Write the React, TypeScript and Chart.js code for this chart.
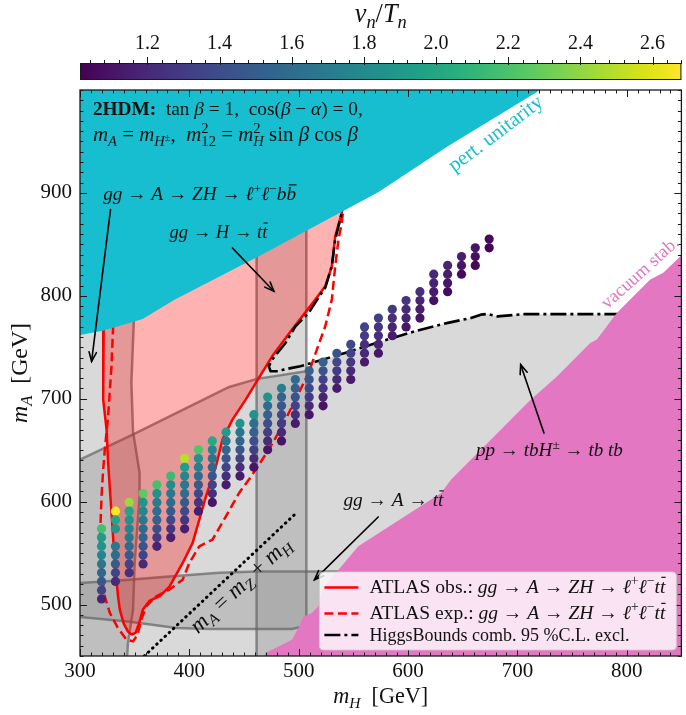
import { useEffect, useRef } from 'react';
import { Chart, registerables } from 'chart.js';

Chart.register(...registerables);

const SERIF = "'Liberation Serif', 'Times New Roman', serif";

// ---------- axes ----------
const X_RANGE = [300, 850];
const Y_RANGE = [450, 1000];
const X_TICKS = [300, 400, 500, 600, 700, 800];
const Y_TICKS = [500, 600, 700, 800, 900];
const CB_RANGE = [1.013, 2.68];
const CB_TICKS = [1.2, 1.4, 1.6, 1.8, 2.0, 2.2, 2.4, 2.6];
const M_Z = 91.19;

// ---------- scan points (m_H columns, m_A rows, v_n/T_n top -> bottom) ----------
const MH_COLUMNS = [319.7, 332.4, 345.0, 357.7, 370.3, 383.0, 395.7, 408.3, 421.0, 433.6, 446.3, 459.0, 471.6, 484.3, 496.9, 509.6, 522.3, 534.9, 547.6, 560.2, 572.9, 585.6, 598.2, 610.9, 623.5, 636.2, 648.9, 661.5, 674.2];
const MA_ROWS = [505.4, 513.9, 522.5, 531.0, 539.5, 548.1, 556.6, 565.1, 573.6, 582.2, 590.7, 599.2, 607.8, 616.3, 624.8, 633.4, 641.9, 650.4, 659.0, 667.5, 676.0, 684.5, 693.1, 701.6, 710.1, 718.7, 727.2, 735.7, 744.2, 752.8, 761.3, 769.8, 778.4, 786.9, 795.4, 804.0, 812.5, 821.0, 829.5, 838.1, 846.6, 855.1];
const COL_TOP_ROW = [8, 10, 11, 12, 13, 14, 16, 17, 18, 19, 20, 21, 23, 24, 25, 26, 27, 28, 29, 31, 32, 33, 34, 35, 37, 38, 39, 40, 41];
const VN_TN: (number | null)[][] = [
  [2.18, 1.93, 1.85, 1.76, 1.68, 1.56, 1.46, 1.35, 1.18],
  [2.68, 1.98, 1.88, null, 1.68, 1.58, 1.48, 1.35, 1.21],
  [2.43, 1.98, 1.85, 1.76, 1.68, 1.58, 1.48, 1.35, 1.24],
  [2.26, 1.88, 1.78, 1.68, 1.59, 1.52, 1.43, 1.35, 1.21],
  [2.18, 1.85, 1.71, 1.61, 1.52, 1.41, 1.30, 1.18],
  [2.15, 1.81, 1.68, 1.58, 1.48, 1.38, 1.26, 1.15],
  [2.51, 1.93, 1.78, 1.68, 1.58, 1.48, 1.38, 1.26, 1.15],
  [2.22, 1.85, 1.71, 1.59, 1.48, 1.38, 1.26, 1.15],
  [2.02, 1.76, 1.65, 1.54, 1.45, 1.35, 1.23, 1.11],
  [1.93, 1.68, 1.56, 1.46, 1.35, 1.24, 1.13],
  [1.88, 1.65, 1.54, 1.45, 1.35, 1.23, 1.13],
  [1.85, 1.61, 1.52, 1.41, 1.32, 1.21, 1.11],
  [1.85, 1.59, 1.52, 1.41, 1.32, 1.21, 1.11],
  [1.71, 1.54, 1.46, 1.38, 1.30, 1.20, 1.10],
  [1.59, 1.52, 1.43, 1.35, 1.24, 1.13],
  [1.54, 1.46, 1.38, 1.30, 1.21, 1.11],
  [1.52, 1.43, 1.35, 1.26, 1.18, 1.10],
  [1.43, 1.37, 1.30, 1.21, 1.13],
  [1.38, 1.33, 1.28, 1.21, 1.13],
  [1.35, 1.30, 1.24, 1.20, 1.13],
  [1.32, 1.26, 1.23, 1.18, 1.11],
  [1.28, 1.23, 1.18, 1.13],
  [1.26, 1.21, 1.17, 1.11],
  [1.23, 1.18, 1.15, 1.10],
  [1.21, 1.17, 1.13, 1.08],
  [1.18, 1.15, 1.11, 1.06],
  [1.15, 1.11, 1.06],
  [1.11, 1.08, 1.04],
  [1.06, 1.01],
];

// ---------- region boundaries [m_H, m_A] ----------
const PERT_UNITARITY = [[290, 759], [300, 762], [321, 766], [357.3, 777.5], [386.4, 796.3], [463.6, 838.4], [572.7, 900.6], [636.4, 945.3], [718.2, 998.4], [730, 1010]];
const VACUUM_STAB = [[465, 440], [469.7, 453], [478.8, 457.8], [493.9, 465.9], [500, 478], [504.5, 488.5], [512.1, 491.8], [518.2, 498.3], [521.2, 514.5], [554.5, 556.6], [630.3, 608.4], [639.4, 621.5], [675.7, 660.2], [712.1, 699.1], [736.4, 721.8], [766.6, 754.2], [772.7, 757.5], [790.9, 783.4], [797, 789.8], [812.1, 806], [821.2, 815.7], [833.4, 822.3], [850.9, 840.2], [860, 850]];
const ATLAS_OBS = [[321, 850], [321.8, 796.3], [321.2, 764.2], [321.2, 699.1], [324.3, 670], [325.7, 637.9], [328.8, 589.3], [331.8, 540.7], [334.8, 507.7], [336.4, 495.1], [340, 481.4], [343.9, 473.7], [347.3, 470.8], [350.9, 472.7], [354.5, 483.4], [357.5, 495.1], [363.6, 503.8], [372.7, 508], [381.8, 517.4], [393.9, 540.4], [403, 559.9], [409.1, 582.5], [415.2, 605.1], [424.3, 634.3], [430.3, 660.3], [439.4, 679.7], [451.5, 699.1], [463.6, 720.2], [475.7, 741.2], [493.9, 767.2], [515.2, 796.3], [524.3, 809.2], [530.3, 828.7], [533.4, 857.8], [539.4, 880.6], [542.7, 903.2]];
const ATLAS_EXP = [[330.9, 850], [330.9, 796.3], [330.3, 770.4], [328.8, 731.5], [325.7, 682.9], [322.7, 650.6], [321.2, 631.1], [319.7, 605.1], [318.2, 563.1], [319.7, 529.1], [322.7, 507.7], [327.3, 491.8], [334.5, 477.5], [342.5, 465.9], [348.5, 464.2], [352.7, 470.8], [356.1, 485.4], [360.6, 498.3], [369.7, 508], [381.8, 514.5], [393.9, 524.2], [400, 540.4], [409.1, 556.6], [421.2, 563.1], [433.4, 585.7], [445.5, 608.5], [454.5, 621.4], [460.6, 631.1], [472.7, 650.6], [484.8, 673.2], [497, 699.1], [509.1, 725.1], [516.6, 747.7], [524.3, 770.4], [530.3, 796.3], [533.4, 828.7], [536.4, 854.6], [539.4, 870.8], [541.8, 893.5]];
const HB_COMBINED = [[542.7, 898.3], [539.4, 880.6], [533.4, 854.6], [530.3, 828.7], [524.3, 808], [518, 798], [509.1, 783.4], [497, 770.4], [487.9, 754.2], [475.7, 738], [472.7, 731.5], [474.3, 726.7], [481.8, 726.7], [486.4, 728.3], [493.9, 730], [501.5, 731.5], [512.1, 734.8], [527.3, 739.7], [542.4, 744.5], [575.7, 755.8], [606.1, 765.5], [636.4, 773.7], [657.5, 778.5], [666.6, 781.7], [672.7, 782.4], [681.8, 780], [706.1, 782.2], [793.9, 782.2]];
const HB_DIAGONAL = [[290, 636.4], [300, 640.8], [348.2, 665.1], [436.4, 711.4], [461.9, 719.3], [507, 726.6]];
const HB_STRIP_EDGE = [[350, 1010], [350, 796.3], [347, 715.4], [348.5, 668], [354.5, 628], [354.5, 605], [350, 540.4], [348.5, 495], [343.9, 462.7], [342.5, 440]];
const HTT_BAND = [461.5, 507];
const ATT_BAND_TOP = [[290, 521], [300, 521], [345, 524], [372.7, 526.5], [427.3, 531], [460.9, 532], [518, 532], [560, 532]];
const ATT_BAND_BOTTOM = [[290, 489], [300, 488], [345.5, 483.2], [388.2, 477.3], [418.2, 476.3], [493.6, 476.3], [506.4, 479.2], [560, 479]];
const MZ_LINE_MH = [355, 497];

// ---------- colours ----------
const VIRIDIS = ['#440154', '#48186a', '#472d7b', '#424086', '#3b528b', '#33638d', '#2c728e', '#26828e', '#21918c', '#1fa088', '#28ae80', '#3fbc73', '#5ec962', '#84d44b', '#addc30', '#d8e219', '#fde725'];
const C_CYAN = '#17becf';
const C_PINK = '#e377c2';
const C_GREY_FILL = 'rgba(128,128,128,0.3)';
const C_GREY_EDGE = 'rgba(100,100,100,0.7)';
const C_ATLAS = 'rgba(255,0,0,0.3)';

function hexRgb(h: string) {
  const n = parseInt(h.slice(1), 16);
  return [(n >> 16) & 255, (n >> 8) & 255, n & 255];
}
function viridis(t: number) {
  const tt = Math.max(0, Math.min(1, t));
  const n = VIRIDIS.length - 1;
  const f = tt * n;
  const i = Math.min(Math.floor(f), n - 1);
  const u = f - i;
  const a = hexRgb(VIRIDIS[i]);
  const b = hexRgb(VIRIDIS[i + 1]);
  const c = a.map((v, k) => Math.round(v + (b[k] - v) * u));
  return `rgb(${c[0]},${c[1]},${c[2]})`;
}

// ---------- rich text ----------
type Run = { t: string; s?: 'i' | 'r' | 'b'; k?: number; dy?: number; na?: boolean; bar?: boolean };
const I = (t: string): Run => ({ t, s: 'i' });
const R = (t: string): Run => ({ t, s: 'r' });
const B = (t: string): Run => ({ t, s: 'b' });
const SUB = (t: string, s: 'i' | 'r' = 'i'): Run => ({ t, s, k: 0.7, dy: 0.22 });
const SUP = (t: string, s: 'i' | 'r' = 'r'): Run => ({ t, s, k: 0.7, dy: -0.4 });
const ARW = R(' \u2192 ');

const TXT_INFO1: Run[] = [B('2HDM:'), R('  tan '), I('\u03B2'), R(' = 1,  cos('), I('\u03B2'), R(' \u2212 '), I('\u03B1'), R(') = 0,')];
const TXT_INFO2: Run[] = [I('m'), SUB('A'), R(' = '), I('m'), SUB('H'), { t: '\u00B1', s: 'r', k: 0.5, dy: -0.02 }, R(',  '), I('m'), { ...SUP('2'), na: true }, SUB('12', 'r'), R(' = '), I('m'), { ...SUP('2'), na: true }, SUB('H'), R(' sin '), I('\u03B2'), R(' cos '), I('\u03B2')];
const TXT_ZH_BB: Run[] = [I('gg'), ARW, I('A'), ARW, I('ZH'), ARW, I('\u2113'), SUP('+'), I('\u2113'), SUP('\u2212'), I('b'), { t: 'b', s: 'i', bar: true }];
const TXT_H_TT: Run[] = [I('gg'), ARW, I('H'), ARW, I('t'), { t: 't', s: 'i', bar: true }];
const TXT_HPM: Run[] = [I('pp'), ARW, I('tbH'), SUP('\u00B1'), ARW, I('tb tb')];
const TXT_A_TT: Run[] = [I('gg'), ARW, I('A'), ARW, I('t'), { t: 't', s: 'i', bar: true }];
const TXT_MZ: Run[] = [I('m'), SUB('A'), R(' = '), I('m'), SUB('Z'), R(' + '), I('m'), SUB('H')];
const ZH_TT: Run[] = [I('gg'), ARW, I('A'), ARW, I('ZH'), ARW, I('\u2113'), SUP('+'), I('\u2113'), SUP('\u2212'), I('t'), { t: 't', s: 'i', bar: true }];
const LEG_OBS: Run[] = [R('ATLAS obs.: '), ...ZH_TT];
const LEG_EXP: Run[] = [R('ATLAS exp.: '), ...ZH_TT];
const LEG_HB: Run[] = [R('HiggsBounds comb. 95 %C.L. excl.')];
const TXT_CB: Run[] = [I('v'), SUB('n'), R('/'), I('T'), SUB('n')];
const TXT_XT: Run[] = [I('m'), SUB('H'), R('  [GeV]')];
const TXT_YT: Run[] = [I('m'), SUB('A'), R('  [GeV]')];
const TXT_PU: Run[] = [R('pert. unitarity')];
const TXT_VS: Run[] = [R('vacuum stab.')];

function fontFor(r: Run, size: number) {
  const px = size * (r.k ?? 1);
  return `${r.s === 'i' ? 'italic ' : ''}${r.s === 'b' ? 'bold ' : ''}${px.toFixed(2)}px ${SERIF}`;
}
function measureRuns(ctx: CanvasRenderingContext2D, runs: Run[], size: number) {
  let w = 0;
  let pend = 0;
  for (const r of runs) {
    ctx.font = fontFor(r, size);
    const rw = ctx.measureText(r.t).width;
    if (r.na) { pend = Math.max(pend, rw); continue; }
    w += Math.max(rw, pend);
    pend = 0;
  }
  return w + pend;
}
function drawRuns(ctx: CanvasRenderingContext2D, runs: Run[], x0: number, y0: number, size: number) {
  ctx.textAlign = 'left';
  ctx.textBaseline = 'alphabetic';
  let cx = x0;
  let pend = 0;
  for (const r of runs) {
    const px = size * (r.k ?? 1);
    ctx.font = fontFor(r, size);
    const rw = ctx.measureText(r.t).width;
    const yy = y0 + (r.dy ?? 0) * size;
    ctx.fillText(r.t, cx, yy);
    if (r.bar) {
      ctx.lineWidth = Math.max(1, px * 0.06);
      ctx.beginPath();
      const by = yy - px * 0.8;
      ctx.moveTo(cx + rw * 0.25, by);
      ctx.lineTo(cx + rw * 1.05, by);
      ctx.stroke();
    }
    if (r.na) { pend = Math.max(pend, rw); } else { cx += Math.max(rw, pend); pend = 0; }
  }
}
type TOpt = { x: number; y: number; size: number; width?: number; align?: 'left' | 'center'; rot?: number; mid?: boolean; color?: string };
function drawText(ctx: CanvasRenderingContext2D, runs: Run[], o: TOpt) {
  let size = o.size;
  if (o.width) size = size * o.width / measureRuns(ctx, runs, size);
  const w = measureRuns(ctx, runs, size);
  ctx.save();
  ctx.fillStyle = o.color ?? '#111';
  ctx.strokeStyle = o.color ?? '#111';
  ctx.translate(o.x, o.y);
  if (o.rot) ctx.rotate((o.rot * Math.PI) / 180);
  const x0 = o.align === 'center' ? -w / 2 : 0;
  const y0 = o.mid ? size * 0.3 : 0;
  drawRuns(ctx, runs, x0, y0, size);
  ctx.restore();
  return size;
}
function arrow(ctx: CanvasRenderingContext2D, x1: number, y1: number, x2: number, y2: number) {
  ctx.save();
  ctx.strokeStyle = '#000';
  ctx.lineWidth = 1.6;
  ctx.lineCap = 'round';
  ctx.beginPath();
  ctx.moveTo(x1, y1);
  ctx.lineTo(x2, y2);
  ctx.stroke();
  const a = Math.atan2(y2 - y1, x2 - x1);
  const hl = 10;
  const hw = 0.38;
  ctx.beginPath();
  ctx.moveTo(x2 - hl * Math.cos(a - hw), y2 - hl * Math.sin(a - hw));
  ctx.lineTo(x2, y2);
  ctx.lineTo(x2 - hl * Math.cos(a + hw), y2 - hl * Math.sin(a + hw));
  ctx.stroke();
  ctx.restore();
}

// ---------- datasets ----------
const P = (arr: number[][]) => arr.map(([x, y]) => ({ x, y }));
const closed = (arr: number[][]) => P([...arr, arr[0]]);

function fillDs(arr: number[][], color: string) {
  return { data: closed(arr), showLine: true, fill: 'shape', backgroundColor: color, borderColor: 'rgba(0,0,0,0)', borderWidth: 0, pointRadius: 0, clip: 0 };
}
function lineDs(arr: number[][], color: string, width: number, dash: number[] = [], cap: CanvasLineCap = 'butt') {
  return { data: P(arr), showLine: true, fill: false, borderColor: color, backgroundColor: color, borderWidth: width, borderDash: dash, borderCapStyle: cap, borderJoinStyle: 'round', pointRadius: 0, clip: 0 };
}

function buildDatasets() {
  const r1 = [...HB_DIAGONAL, ...HB_COMBINED.slice(16), [860, 782.2], [860, 440], [290, 440]];
  const r2 = [[290, 1010], ...HB_STRIP_EDGE, [290, 440]];
  const r3 = [[HTT_BAND[0], 440], [HTT_BAND[0], 1010], [HTT_BAND[1], 1010], [HTT_BAND[1], 440]];
  const r4 = [...ATT_BAND_TOP, ...ATT_BAND_BOTTOM.slice().reverse()];
  const atlas = [...ATLAS_OBS, [542.7, 1010], [321, 1010]];
  const cyan = [...PERT_UNITARITY, [290, 1010]];
  const mag = [...VACUUM_STAB, [860, 440]];

  const scanPts: { x: number; y: number }[] = [];
  const scanCols: string[] = [];
  MH_COLUMNS.forEach((mh, c) => {
    VN_TN[c].forEach((v, j) => {
      if (v == null) return;
      scanPts.push({ x: mh, y: MA_ROWS[COL_TOP_ROW[c] - j] });
      scanCols.push(viridis((v - CB_RANGE[0]) / (CB_RANGE[1] - CB_RANGE[0])));
    });
  });

  const ds: any[] = [
    fillDs(r1, C_GREY_FILL),
    fillDs(r2, C_GREY_FILL),
    fillDs(r3, C_GREY_FILL),
    fillDs(r4, C_GREY_FILL),
    lineDs(HB_DIAGONAL, C_GREY_EDGE, 2.5),
    lineDs(HB_STRIP_EDGE, C_GREY_EDGE, 2.5),
    lineDs([[HTT_BAND[0], 440], [HTT_BAND[0], 1010]], C_GREY_EDGE, 2.5),
    lineDs([[HTT_BAND[1], 440], [HTT_BAND[1], 1010]], C_GREY_EDGE, 2.5),
    lineDs(ATT_BAND_TOP, C_GREY_EDGE, 2.5),
    lineDs(ATT_BAND_BOTTOM, C_GREY_EDGE, 2.5),
    fillDs(atlas, C_ATLAS),
    lineDs(ATLAS_OBS, '#ff0000', 2.5),
    lineDs(ATLAS_EXP, '#ff0000', 2.5, [9, 4.5]),
    lineDs(HB_COMBINED, '#000000', 2.6, [16, 4, 3, 4]),
    fillDs(cyan, C_CYAN),
    fillDs(mag, C_PINK),
    lineDs(MZ_LINE_MH.map((m) => [m, m + M_Z]), '#000000', 3, [0.5, 5.2], 'round'),
    { data: scanPts, showLine: false, pointRadius: 4.6, pointBackgroundColor: scanCols, pointBorderWidth: 0, pointBorderColor: 'rgba(0,0,0,0)', clip: 0 },
  ];
  ds.forEach((d, i) => { d.order = -i; });
  return ds;
}

// ---------- overlay plugin ----------
const overlay = {
  id: 'overlay',
  afterDraw(chart: any) {
    const { ctx, chartArea: a, scales } = chart;
    const X = (v: number) => scales.x.getPixelForValue(v);
    const Y = (v: number) => scales.y.getPixelForValue(v);
    ctx.save();

    // frame + inward ticks
    ctx.strokeStyle = '#1a1a1a';
    ctx.lineWidth = 1.3;
    ctx.strokeRect(a.left, a.top, a.right - a.left, a.bottom - a.top);
    ctx.lineWidth = 1;
    const seg = (x1: number, y1: number, x2: number, y2: number) => { ctx.beginPath(); ctx.moveTo(x1, y1); ctx.lineTo(x2, y2); ctx.stroke(); };
    for (let v = X_RANGE[0]; v <= X_RANGE[1]; v += 10) {
      const L = X_TICKS.includes(v) ? 7 : 3.5;
      const px = Math.round(X(v)) + 0.5;
      seg(px, a.bottom, px, a.bottom - L);
      seg(px, a.top, px, a.top + L);
    }
    for (let v = Y_RANGE[0]; v <= Y_RANGE[1]; v += 10) {
      const L = Y_TICKS.includes(v) ? 7 : 3.5;
      const py = Math.round(Y(v)) + 0.5;
      seg(a.left, py, a.left + L, py);
      seg(a.right, py, a.right - L, py);
    }

    // colour bar
    const cbTop = a.top - 27;
    const cbH = 17;
    const g = ctx.createLinearGradient(a.left, 0, a.right, 0);
    VIRIDIS.forEach((c, i) => g.addColorStop(i / (VIRIDIS.length - 1), c));
    ctx.fillStyle = g;
    ctx.fillRect(a.left, cbTop, a.right - a.left, cbH);
    ctx.strokeStyle = '#1a1a1a';
    ctx.lineWidth = 1;
    ctx.strokeRect(a.left + 0.5, cbTop + 0.5, a.right - a.left - 1, cbH - 1);
    const CX = (v: number) => a.left + ((v - CB_RANGE[0]) / (CB_RANGE[1] - CB_RANGE[0])) * (a.right - a.left);
    for (let k = 26; k <= 67; k++) {
      const v = k * 0.04;
      const major = CB_TICKS.some((t) => Math.abs(t - v) < 1e-6);
      const px = Math.round(CX(v)) + 0.5;
      seg(px, cbTop - (major ? 6 : 3), px, cbTop + (major ? 2 : 1));
    }
    ctx.fillStyle = '#111';
    ctx.font = `20px ${SERIF}`;
    ctx.textAlign = 'center';
    ctx.textBaseline = 'middle';
    CB_TICKS.forEach((t) => ctx.fillText(t.toFixed(1), CX(t), cbTop - 19));
    const cmid = (a.left + a.right) / 2;
    drawText(ctx, TXT_CB, { x: cmid, y: 22, size: 20, width: 52, align: 'center' });

    // axis titles
    drawText(ctx, TXT_XT, { x: cmid, y: a.bottom + 47, size: 23, width: 95, align: 'center' });
    drawText(ctx, TXT_YT, { x: 27, y: (a.top + a.bottom) / 2, size: 23, width: 100, align: 'center', rot: -90 });

    // annotations
    drawText(ctx, TXT_INFO1, { x: X(311.8), y: Y(976.1), size: 16, width: 270 });
    drawText(ctx, TXT_INFO2, { x: X(311.8), y: Y(950.1), size: 16, width: 265 });
    drawText(ctx, TXT_ZH_BB, { x: X(321.2), y: Y(892.8), size: 16, width: 193 });
    drawText(ctx, TXT_H_TT, { x: X(381.8), y: Y(856.3), size: 16, width: 98 });
    drawText(ctx, TXT_HPM, { x: X(662.1), y: Y(644), size: 16, width: 147 });
    drawText(ctx, TXT_A_TT, { x: X(540.9), y: Y(595.4), size: 16, width: 100 });
    drawText(ctx, TXT_MZ, { x: X(446.8), y: Y(518.9), size: 16, width: 129, align: 'center', rot: -43, mid: true });
    drawText(ctx, TXT_PU, { x: X(680), y: Y(957.6), size: 16, width: 113, align: 'center', rot: -37, mid: true, color: C_CYAN });
    drawText(ctx, TXT_VS, { x: X(812.1), y: Y(822.5), size: 16, width: 98, align: 'center', rot: -42, mid: true, color: C_PINK });
    arrow(ctx, X(327.9), Y(883.8), X(310.6), Y(736.3));
    arrow(ctx, X(439.4), Y(846.5), X(477.3), Y(804.4));
    arrow(ctx, X(724.3), Y(666.8), X(703), Y(733.1));
    arrow(ctx, X(572.7), Y(585.1), X(514.5), Y(524.2));

    // legend
    const lx = a.right - 362;
    const ly = a.bottom - 84;
    const lw = 357;
    const lh = 78;
    ctx.beginPath();
    ctx.roundRect(lx, ly, lw, lh, 4);
    ctx.fillStyle = 'rgba(255,255,255,0.8)';
    ctx.fill();
    ctx.strokeStyle = 'rgba(204,204,204,0.8)';
    ctx.lineWidth = 1;
    ctx.stroke();
    const rows = [ly + 15.5, ly + 41.5, ly + 63];
    const sample = (yy: number, color: string, dash: number[]) => {
      ctx.save();
      ctx.strokeStyle = color;
      ctx.lineWidth = 2.6;
      ctx.setLineDash(dash);
      seg(lx + 5, yy, lx + 39, yy);
      ctx.restore();
    };
    sample(rows[0], '#ff0000', []);
    sample(rows[1], '#ff0000', [9, 4.5]);
    sample(rows[2], '#000000', [16, 4, 3, 4]);
    drawText(ctx, LEG_HB, { x: lx + 50, y: rows[2] + 5.5, size: 16, width: 260 });
    drawText(ctx, LEG_OBS, { x: lx + 50, y: rows[0] + 5.5, size: 16, width: 296 });
    drawText(ctx, LEG_EXP, { x: lx + 50, y: rows[1] + 5.5, size: 16, width: 296 });

    ctx.restore();
  },
};

export default function App() {
  const ref = useRef<HTMLCanvasElement>(null);
  useEffect(() => {
    const tickFont = { family: SERIF, size: 21 };
    const chart = new Chart(ref.current as HTMLCanvasElement, {
      type: 'scatter',
      data: { datasets: buildDatasets() },
      options: {
        responsive: false,
        animation: false,
        devicePixelRatio: 1,
        events: [],
        layout: { padding: { top: 90, right: 1, left: 0, bottom: 0 } },
        plugins: { legend: { display: false }, tooltip: { enabled: false } },
        scales: {
          x: {
            type: 'linear',
            min: X_RANGE[0],
            max: X_RANGE[1],
            afterBuildTicks: (s: any) => { s.ticks = X_TICKS.map((value) => ({ value })); },
            afterFit: (s: any) => { s.height = 59; },
            grid: { display: false, drawTicks: false },
            border: { display: false },
            ticks: { font: tickFont, color: '#111', padding: 3, maxRotation: 0, autoSkip: false },
          },
          y: {
            type: 'linear',
            min: Y_RANGE[0],
            max: Y_RANGE[1],
            afterBuildTicks: (s: any) => { s.ticks = Y_TICKS.map((value) => ({ value })); },
            afterFit: (s: any) => { s.width = 80; },
            grid: { display: false, drawTicks: false },
            border: { display: false },
            ticks: { font: tickFont, color: '#111', padding: 8, autoSkip: false },
          },
        },
      } as any,
      plugins: [overlay],
    } as any);
    return () => chart.destroy();
  }, []);
  return (
    <div style={{ position: 'absolute', left: 0, top: 0, width: 686, height: 715, background: '#fff' }}>
      <canvas ref={ref} width={686} height={715} style={{ display: 'block', width: 686, height: 715 }} />
    </div>
  );
}
